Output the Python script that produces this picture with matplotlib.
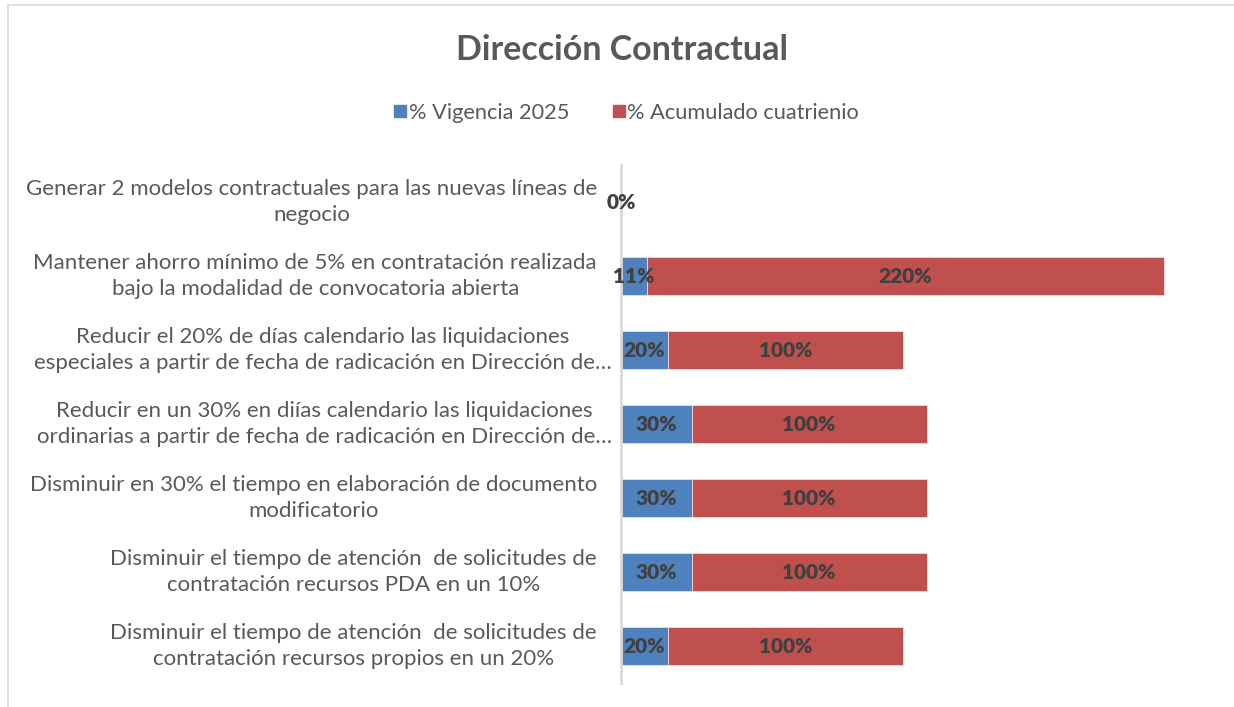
import matplotlib
matplotlib.use("Agg")
import matplotlib.pyplot as plt
from matplotlib.lines import Line2D

# data (top to bottom as shown)
labels = [
    "Generar 2 modelos contractuales para las nuevas líneas de\nnegocio",
    "Mantener ahorro mínimo de 5% en contratación realizada\nbajo la modalidad de convocatoria abierta",
    "Reducir el 20% de días calendario las liquidaciones\nespeciales a partir de fecha de radicación en Dirección de…",
    "Reducir en un 30% en diías calendario las liquidaciones\nordinarias a partir de fecha de radicación en Dirección de…",
    "Disminuir en 30% el tiempo en elaboración de documento\nmodificatorio",
    "Disminuir el tiempo de atención  de solicitudes de\ncontratación recursos PDA en un 10%",
    "Disminuir el tiempo de atención  de solicitudes de\ncontratación recursos propios en un 20%",
]
vigencia = [0, 11, 20, 30, 30, 30, 20]
acumulado = [0, 220, 100, 100, 100, 100, 100]
series_names = ["% Vigencia 2025", "% Acumulado cuatrienio"]

BLUE = "#4F81BD"
RED = "#C0504D"
TXT = "#595959"
VAL = "#404040"
FONT = "Lato"

W, H = 1234, 707
fig = plt.figure(figsize=(W / 100, H / 100), dpi=100)
ax = fig.add_axes([621 / W, 1 - 683 / H, (1210 - 621) / W, (683 - 165) / H])

ypos = list(range(len(labels)))
ax.barh(ypos, vigencia, height=0.51, color=BLUE, edgecolor="#f2dcdb", linewidth=0.6)
ax.barh(ypos, acumulado, left=vigencia, height=0.51, color=RED, edgecolor="#f2dcdb", linewidth=0.6)

ax.set_xlim(0, 589 / 2.35)
ax.set_ylim(len(labels) - 0.5, -0.5)

# value labels
vkw = dict(ha="center", va="center", fontsize=15, fontweight="heavy", color=VAL, family=FONT)
for i, (v, a) in enumerate(zip(vigencia, acumulado)):
    if v == 0 and a == 0:
        ax.text(0, i, "0%", **vkw)
        continue
    ax.text(v / 2, i, f"{v}%", **vkw)
    ax.text(v + a / 2, i, f"{a}%", **vkw)

# category labels, centered multi-line, to the left of the axis
ax.set_yticks(ypos)
ax.set_yticklabels([])
for i, lab in enumerate(labels):
    # truncated labels overflow their box a bit, like in the original
    pad = -9 if lab.endswith("…") else -24
    ax.annotate(lab, xy=(0, i), xycoords=("axes fraction", "data"), xytext=(pad, 0),
                textcoords="offset pixels", ha="right", va="center", multialignment="center",
                fontsize=16, color=TXT, family=FONT, linespacing=1.4)

ax.tick_params(left=False, bottom=False, labelbottom=False)
for s in ["top", "right", "bottom"]:
    ax.spines[s].set_visible(False)
ax.spines["left"].set_color("#d9d9d9")
ax.spines["left"].set_linewidth(2)

fig.text(622 / W, 1 - 50 / H, "Dirección Contractual", ha="center", va="center",
         fontsize=24.5, fontweight="bold", color=TXT, family=FONT)

handles = [Line2D([], [], marker="s", linestyle="", markersize=9, color=BLUE),
           Line2D([], [], marker="s", linestyle="", markersize=9, color=RED)]
fig.legend(handles, series_names, loc="center", bbox_to_anchor=(626 / W, 1 - 113 / H),
           ncol=2, frameon=False, prop={"family": FONT, "size": 15.7}, labelcolor=TXT,
           handletextpad=0.05, columnspacing=1.9, handlelength=0.7)

# chart area border lines
fig.add_artist(Line2D([8 / W, 8 / W], [0, 1 - 5 / H], color="#d9d9d9", linewidth=1.2))
fig.add_artist(Line2D([8 / W, 1], [1 - 5 / H, 1 - 5 / H], color="#d9d9d9", linewidth=1.2))

fig.savefig("out.png", dpi=100)
